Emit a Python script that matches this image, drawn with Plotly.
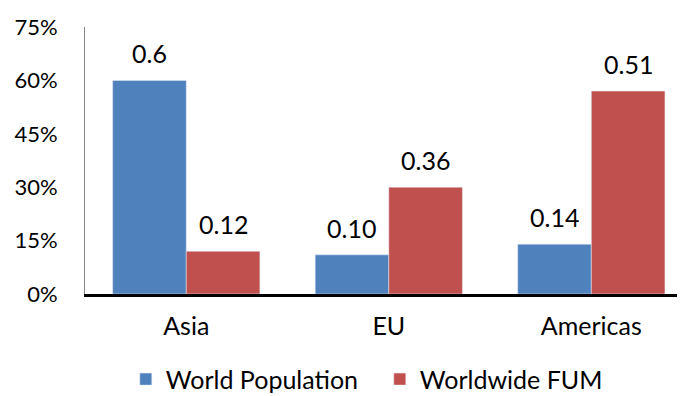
import plotly.graph_objects as go

categories = ["Asia", "EU", "Americas"]
world_population = [0.60, 0.11, 0.14]
worldwide_fum = [0.12, 0.30, 0.57]
pop_labels = ["0.6", "0.10", "0.14"]
fum_labels = ["0.12", "0.36", "0.51"]
y_ticks = [0, 0.15, 0.30, 0.45, 0.60, 0.75]

BLUE = "#4F81BD"
RED = "#C0504D"
FONT = "Lato"

bargap = 0.273
bw = (1 - bargap) / 2

fig = go.Figure()
fig.add_trace(go.Bar(name="World Population", x=categories, y=world_population,
                     marker=dict(color=BLUE)))
fig.add_trace(go.Bar(name="Worldwide FUM", x=categories, y=worldwide_fum,
                     marker=dict(color=RED)))

annotations = []
for i in range(len(categories)):
    for vals, labs, off in ((world_population, pop_labels, -bw / 2),
                            (worldwide_fum, fum_labels, bw / 2)):
        annotations.append(dict(x=i + off, y=vals[i], xref="x", yref="y",
                                text=labs[i], showarrow=False, yanchor="middle",
                                yshift=27, font=dict(family=FONT, size=25, color="#000")))

fig.update_layout(
    width=680, height=396,
    margin=dict(l=85, r=3, t=27, b=102, autoexpand=False),
    paper_bgcolor="white", plot_bgcolor="white",
    barmode="group", bargap=bargap, bargroupgap=0,
    font=dict(family=FONT, size=25, color="#000"),
    annotations=annotations,
    showlegend=True,
    legend=dict(orientation="h", xref="container", yref="container",
                x=0.185, xanchor="left", y=0.042, yanchor="middle",
                entrywidth=209, entrywidthmode="pixels",
                font=dict(family=FONT, size=25, color="#000"),
                bgcolor="rgba(0,0,0,0)"),
    xaxis=dict(type="category", range=[-0.5, 2.423], showline=True, linecolor="#000",
               linewidth=3, ticks="", showgrid=False, zeroline=False,
               ticklabelstandoff=8, tickfont=dict(family=FONT, size=25)),
    yaxis=dict(range=[0, 0.75], tickvals=y_ticks, tickformat=".0%", showline=True,
               linecolor="#868686", linewidth=1, showgrid=False, zeroline=False,
               ticks="", ticklabelstandoff=22, tickfont=dict(family=FONT, size=22)),
)

fig.write_html("out.html")
